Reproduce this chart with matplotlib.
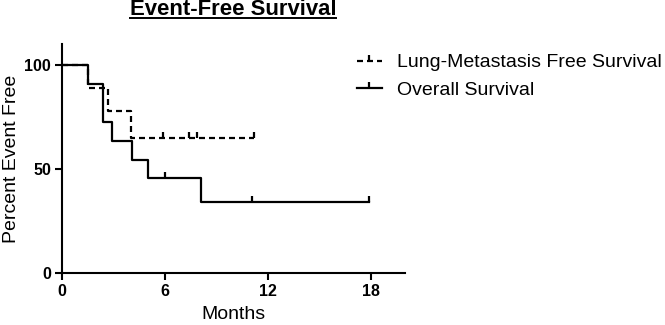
import matplotlib
matplotlib.use('Agg')
import matplotlib.pyplot as plt
from matplotlib.lines import Line2D

plt.rcParams['font.family'] = ['Liberation Sans', 'DejaVu Sans']

# Overall survival (solid)
os_months = [0, 1.5, 2.4, 2.9, 4.1, 5.0, 8.1, 17.9]
os_pct = [100, 90.9, 72.7, 63.6, 54.5, 45.5, 34.1, 34.1]
os_censor_months = [6.0, 11.1, 17.9]
os_censor_pct = [45.5, 34.1, 34.1]

# Lung-metastasis free survival (dashed)
lm_months = [0, 1.5, 2.7, 4.05, 11.2]
lm_pct = [100, 88.9, 77.8, 64.8, 64.8]
lm_censor_months = [5.9, 7.4, 7.9, 11.2]
lm_censor_pct = [64.8, 64.8, 64.8, 64.8]

x_ticks = [0, 6, 12, 18]
y_ticks = [0, 50, 100]

W, H = 665, 325
fig = plt.figure(figsize=(W / 100, H / 100), dpi=100)
ax = fig.add_axes([62 / W, 1 - 273 / H, (405 - 62) / W, (273 - 44) / H])

dash = (0, (2.7, 1.8))
ax.step(lm_months, lm_pct, where='post', color='black', lw=1.6, linestyle=dash)
ax.plot(lm_censor_months, lm_censor_pct, linestyle='none', marker=2,
        markersize=4, markeredgewidth=1.6, color='black')
ax.step(os_months, os_pct, where='post', color='black', lw=1.6)
ax.plot(os_censor_months, os_censor_pct, linestyle='none', marker=2,
        markersize=4, markeredgewidth=1.6, color='black')

ax.set_xlim(0, 20)
ax.set_ylim(0, 110)
ax.set_xticks(x_ticks)
ax.set_yticks(y_ticks)
for s in ['top', 'right']:
    ax.spines[s].set_visible(False)
for s in ['left', 'bottom']:
    ax.spines[s].set_linewidth(1.5)
ax.tick_params(direction='out', length=5, width=1.5, labelsize=11.5, pad=3)
for lbl in ax.get_xticklabels() + ax.get_yticklabels():
    lbl.set_fontweight('bold')

ax.set_xlabel('Months', fontsize=14, labelpad=5)
ax.set_ylabel('Percent Event Free', fontsize=14, labelpad=3)

handles = [
    Line2D([0], [0], color='black', lw=1.6, linestyle=dash, marker=2,
           markersize=4, markeredgewidth=1.6),
    Line2D([0], [0], color='black', lw=1.6, marker=2,
           markersize=4, markeredgewidth=1.6),
]
fig.legend(handles, ['Lung-Metastasis Free Survival', 'Overall Survival'],
           loc='upper left', bbox_to_anchor=(349 / W, 1 - 46 / H),
           borderaxespad=0, frameon=False, fontsize=14, numpoints=1,
           handlelength=1.28, handletextpad=0.77, labelspacing=0.52)

title = fig.text(233 / W, 1 - 15 / H, 'Event-Free Survival', ha='center',
                 va='baseline', fontsize=15.9, fontweight='bold')
fig.canvas.draw()
bb = title.get_window_extent()
fig.add_artist(Line2D([bb.x0 / W, bb.x1 / W], [1 - 17.5 / H, 1 - 17.5 / H],
                      transform=fig.transFigure, color='black', lw=1.4))

fig.savefig('out.png', dpi=100, facecolor='white')
